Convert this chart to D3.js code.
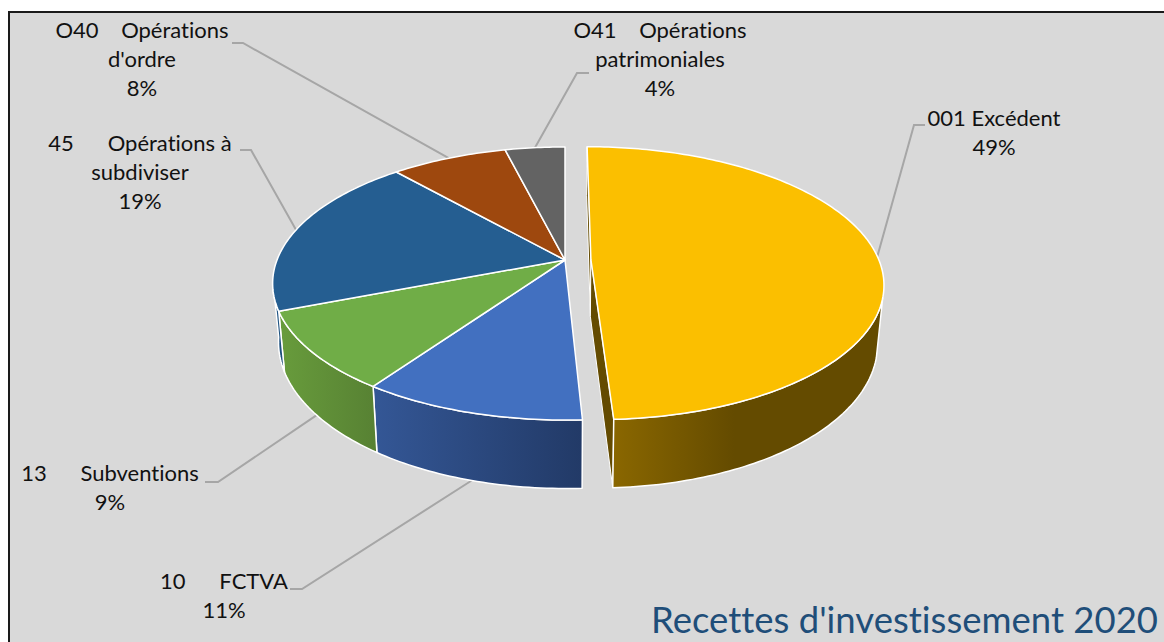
<!DOCTYPE html>
<html>
<head>
<meta charset="utf-8">
<script src="https://cdn.jsdelivr.net/npm/d3@7"></script>
<style>
  html, body { margin: 0; padding: 0; background: #fff; overflow: hidden; }
  text { font-family: Lato, "Open Sans", sans-serif; white-space: pre; font-variant-ligatures: none; }
</style>
</head>
<body>
<div id="chart"></div>
<script>
const categories = [
    ["001 Excédent"],
    ["10      FCTVA"],
    ["13      Subventions"],
    ["45      Opérations à", "subdiviser"],
    ["O40    Opérations", "d'ordre"],
    ["O41    Opérations", "patrimoniales"]
];
const values = [49.2, 10.5, 9.4, 19.4, 7.6, 3.9];
const topColors = ["#fbbf00", "#4270c0", "#70ad47", "#255e91", "#9e480e", "#636363"];
const wallColors = [
    ["#8a6700", "#644b00"],
    ["#345796", "#223a67"],
    ["#689c3c", "#578133"],
    ["#255e91", "#1c4a73"],
    ["#7a380b", "#7a380b"],
    ["#4c4c4c", "#4c4c4c"]
];

const width = 1164, height = 642;

// label layout: centre of text block, first baseline, elbow of the leader line
const labelLayout = [
    { x: 994, y: 126, from: [925, 125], elbow: [914, 125], end: "top" },
    { x: 224, y: 589, from: [290, 589], elbow: [302, 589], end: "bottom" },
    { x: 110, y: 481, from: [205, 482], elbow: [218, 482], end: "bottom" },
    { x: 140, y: 151, from: [240, 150], elbow: [251, 150], end: "top" },
    { x: 142, y: 38, from: [232, 43], elbow: [243, 43], end: "top" },
    { x: 660, y: 38, from: [589, 73], elbow: [577, 73], end: "top" }
];

// perspective of the disc: apex at (cx, cy), near side bigger than far side
const cx = 565, cy = 260;
const R = 288, S = 132.5, tilt = 0.172;
const depth = 57, bottomS = 142, bottomX = 0.98;
const explode = 0.09;
const explodedIndex = 0;

function project(a, r, off, bottom) {
    const u = r * Math.sin(a) + off * Math.sin(off ? midExploded : 0);
    const v = -r * Math.cos(a) - off * Math.cos(off ? midExploded : 0);
    const w = 1 - tilt * v;
    if (bottom) return [cx + bottomX * R * u / w, cy + depth + bottomS * v / w];
    return [cx + R * u / w, cy + S * v / w];
}

const pie = d3.pie().sort(null).value(d => d);
const slices = pie(values);
const midExploded = (slices[explodedIndex].startAngle + slices[explodedIndex].endAngle) / 2;

const line = d3.line();
const color = d3.scaleOrdinal().domain(d3.range(values.length)).range(topColors);

const rad = d => d * Math.PI / 180;

function arcAngles(a0, a1) {
    const n = Math.max(2, Math.ceil((a1 - a0) / rad(1)));
    return d3.range(n + 1).map(i => a0 + (a1 - a0) * i / n);
}

const svg = d3.select("#chart").append("svg")
    .attr("width", width)
    .attr("height", height);

const defs = svg.append("defs");
wallColors.forEach((c, i) => {
    const g = defs.append("linearGradient").attr("id", "wall" + i);
    g.append("stop").attr("offset", "0%").attr("stop-color", c[0]);
    g.append("stop").attr("offset", i === 0 ? "45%" : "100%").attr("stop-color", c[1]);
});

svg.append("rect")
    .attr("x", 9).attr("y", 12)
    .attr("width", width + 10).attr("height", height + 10)
    .attr("fill", "#d9d9d9")
    .attr("stroke", "#1a1a1a")
    .attr("stroke-width", 2);

// Leader lines go under the pie
slices.forEach((d, i) => {
    const l = labelLayout[i];
    const mid = (d.startAngle + d.endAngle) / 2;
    const off = i === explodedIndex ? explode : 0;
    const endPoint = project(mid, 1, off, l.end === "bottom");
    svg.append("path")
        .attr("d", line([l.from, l.elbow, endPoint]))
        .attr("fill", "none")
        .attr("stroke", "#a6a6a6")
        .attr("stroke-width", 2);
});

// Visible part of the side wall for each slice
const wallRange = [[rad(106), null], [null, null], [null, null], [null, rad(262)]];
const walls = svg.append("g");

// cut faces of the pulled out slice
const ex = slices[explodedIndex];
[ex.startAngle, ex.endAngle].forEach(a => {
    const pts = [
        project(a, 1, explode, false),
        project(a, 0, explode, false),
        project(a, 0, explode, true),
        project(a, 1, explode, true)
    ];
    walls.append("path")
        .attr("d", line(pts) + "Z")
        .attr("fill", "#644b00")
        .attr("stroke", "#fff")
        .attr("stroke-width", 1)
        .attr("stroke-linejoin", "round");
});

wallRange.forEach((range, i) => {
    const d = slices[i];
    const a0 = range[0] === null ? d.startAngle : range[0];
    const a1 = range[1] === null ? d.endAngle : range[1];
    const off = i === explodedIndex ? explode : 0;
    const angles = arcAngles(a0, a1);
    const pts = angles.map(a => project(a, 1, off, false))
        .concat(angles.slice().reverse().map(a => project(a, 1, off, true)));
    walls.append("path")
        .attr("d", line(pts) + "Z")
        .attr("fill", `url(#wall${i})`)
        .attr("stroke", "#fff")
        .attr("stroke-width", 1.5)
        .attr("stroke-linejoin", "round");
});

// Top faces, pulled out slice last
const order = [1, 2, 3, 4, 5, 0];
svg.append("g").selectAll("path")
    .data(order)
    .join("path")
    .attr("d", i => {
        const d = slices[i];
        const off = i === explodedIndex ? explode : 0;
        const pts = arcAngles(d.startAngle, d.endAngle).map(a => project(a, 1, off, false));
        pts.unshift(project(0, 0, off, false));
        return line(pts) + "Z";
    })
    .attr("fill", i => color(i))
    .attr("stroke", "#fff")
    .attr("stroke-width", 1.5)
    .attr("stroke-linejoin", "round");

// Labels
const labels = svg.append("g")
    .selectAll("text")
    .data(slices)
    .join("text")
    .attr("text-anchor", "middle")
    .attr("font-size", 22)
    .attr("fill", "#111")
    .attr("y", (d, i) => labelLayout[i].y);

labels.each(function (d, i) {
    const rows = categories[i].concat([Math.round(d.value) + "%"]);
    rows.forEach((row, k) => {
        d3.select(this).append("tspan")
            .attr("x", labelLayout[i].x)
            .attr("dy", k === 0 ? 0 : 29)
            .text(row);
    });
});

svg.append("text")
    .attr("x", 1158)
    .attr("y", 633)
    .attr("text-anchor", "end")
    .attr("font-size", 36.5)
    .attr("fill", "#1f4e79")
    .text("Recettes d'investissement 2020");
</script>
</body>
</html>
